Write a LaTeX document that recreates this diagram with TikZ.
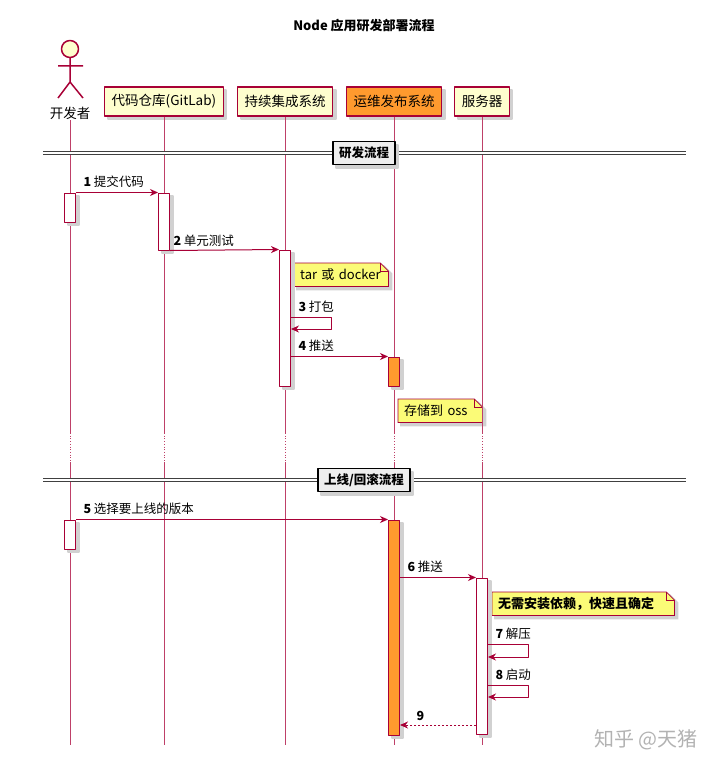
\documentclass[tikz,border=0pt]{standalone}
\usepackage{fontspec}
\setmainfont{Noto Sans CJK SC}
\usetikzlibrary{arrows.meta}
\definecolor{umlred}{HTML}{A80036}
\definecolor{umlbox}{HTML}{FEFECE}
\definecolor{umlorange}{HTML}{FF9A2E}
\definecolor{umlnote}{HTML}{FBFB77}
\definecolor{umlsep}{HTML}{EEEEEE}
\pgfdeclarelayer{back}\pgfsetlayers{back,main}
\begin{document}
\begin{tikzpicture}[x=1pt, y=-1pt, line join=round, >={Stealth[length=8pt,width=7pt,inset=2.5pt]},
  boxshadow/.style={preaction={draw=black!18, fill=black!18, line width=2pt, transform canvas={xshift=3pt, yshift=-3pt}}},
  part/.style={draw=umlred, fill=umlbox, line width=1.2pt, minimum height=29pt, inner xsep=7pt, font=\fontsize{13.5}{16}\selectfont, boxshadow},
  life/.style={draw=umlred!75, line width=.7pt},
  actbar/.style={draw=umlred, fill=white, line width=1pt, minimum width=11pt, inner sep=0pt, boxshadow},
  msg/.style={draw=umlred, line width=1pt, ->},
  lbl/.style={anchor=south west, inner sep=0pt, xshift=7pt, yshift=4pt, text=black, font=\fontsize{12.5}{14}\selectfont},
  notetext/.style={anchor=north west, inner xsep=6pt, inner ysep=0pt, minimum height=23pt, align=left, font=\fontsize{13}{15}\selectfont},
  notefold/.style={draw=umlred, fill=umlnote, line width=.8pt, boxshadow},
  divbox/.style={draw=black, fill=umlsep, line width=1.5pt, inner xsep=6pt, minimum height=23pt, font=\bfseries\fontsize{12.5}{15}\selectfont, boxshadow},
  divline/.style={draw=black!75, double=white, double distance=1.2pt, line width=1.1pt}]
\useasboundingbox (0,0) rectangle (720,768);
\node[font=\bfseries\fontsize{13}{15}\selectfont] (title) at (364,26) {Node 应用研发部署流程};
% participants
\draw[draw=umlred, fill=umlbox, line width=1.5pt] (70,49) circle[radius=8.5pt];
\draw[umlred, line width=1.5pt] (70,58) -- (70,82) (58,66) -- (83,66) (58,98) -- (70,82) -- (83,98);
\node[font=\fontsize{13.5}{16}\selectfont, inner sep=1pt] (dev) at (70,113) {开发者};
\node[part] (repo) at (164,101.5) {代码仓库(GitLab)};
\node[part] (ci) at (285,101.5) {持续集成系统};
\node[part, fill=umlorange] (ops) at (394,101.5) {运维发布系统};
\node[part] (srv) at (482,101.5) {服务器};
\foreach \p in {dev,repo,ci,ops,srv} {
  \draw[life] (\p.south) -- (\p.south |- 0,433);
  \draw[life, dotted] (\p.south |- 0,433) -- (\p.south |- 0,462);
  \draw[life] (\p.south |- 0,462) -- (\p.south |- 0,745);
}
% dividers
\draw[divline] (43,153) -- (686,153);
\node[divbox] (sep1) at (364,153) {研发流程};
\draw[divline] (43,480) -- (686,480);
\node[divbox] (sep2) at (364,480) {上线/回滚流程};
% activations
\node[actbar, minimum height=29pt] (d1) at (70,207.5) {};
\node[actbar, minimum height=57pt] (r1) at (164,221.5) {};
\node[actbar, minimum height=136pt] (c1) at (285,318) {};
\node[actbar, fill=umlorange, minimum height=29pt] (o1) at (394,371.5) {};
\node[actbar, minimum height=29pt] (d2) at (70,534.5) {};
\node[actbar, fill=umlorange, minimum height=215pt] (o2) at (394,627.5) {};
\node[actbar, minimum height=156pt] (s1) at (482,656) {};
% messages
\draw[msg] (d1.north east) -- (r1.north west) node[lbl, pos=0] {\textbf{1} 提交代码};
\draw[msg] (r1.south east) -- (c1.north west) node[lbl, pos=0, xshift=-4pt] {\textbf{2} 单元测试};
\draw[msg] (c1.east |- 0,317) -- node[lbl, pos=0] {\textbf{3} 打包} ++(40,0) -- ++(0,12) -- (c1.east |- 0,329);
\draw[msg] (c1.east |- o1.north) -- (o1.north west) node[lbl, pos=0] {\textbf{4} 推送};
\draw[msg] (d2.north east) -- (o2.north west) node[lbl, pos=0] {\textbf{5} 选择要上线的版本};
\draw[msg] (o2.east |- s1.north) -- (s1.north west) node[lbl, pos=0] {\textbf{6} 推送};
\draw[msg] (s1.east |- 0,644) -- node[lbl, pos=0] {\textbf{7} 解压} ++(40,0) -- ++(0,13) -- (s1.east |- 0,657);
\draw[msg] (s1.east |- 0,685) -- node[lbl, pos=0] {\textbf{8} 启动} ++(40,0) -- ++(0,12) -- (s1.east |- 0,697);
\draw[msg, dash pattern=on 2pt off 2pt] (s1.west |- 0,725) -- (o2.east |- 0,725) node[lbl, pos=1, xshift=9pt] {\textbf{9}};
% notes
\node[notetext, text width=82pt] (n1) at (294,263) {tar 或 docker};
\node[notetext, text width=72pt] (n2) at (398,399) {存储到 oss};
\node[notetext, text width=170pt, font=\bfseries\fontsize{13}{15}\selectfont] (n3) at (492,592) {无需安装依赖，快速且确定};
\begin{pgfonlayer}{back}
\foreach \n in {n1,n2,n3} {
  \draw[notefold] (\n.south west) -- (\n.north west) -- ([xshift=-8pt]\n.north east) -- ([yshift=-8pt]\n.north east) -- (\n.south east) -- cycle;
  \draw[umlred, line width=.8pt] ([xshift=-8pt]\n.north east) |- ([yshift=-8pt]\n.north east);
}
\end{pgfonlayer}
\node[text=black!30, font=\fontsize{20}{22}\selectfont] (mark) at (646,740) {知乎 @天猪};
\end{tikzpicture}
\end{document}
